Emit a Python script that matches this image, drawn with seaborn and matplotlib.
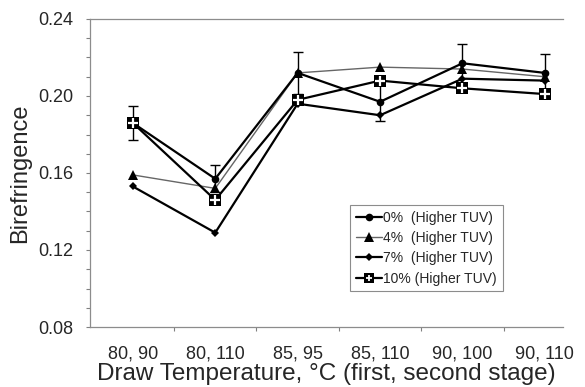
import numpy as np
import pandas as pd
import matplotlib
matplotlib.use("Agg")
import matplotlib.pyplot as plt
import seaborn as sns
from matplotlib.ticker import MultipleLocator, FixedLocator
from matplotlib.legend_handler import HandlerTuple
from matplotlib.lines import Line2D

# datos
stages = ["80, 90", "80, 110", "85, 95", "85, 110", "90, 100", "90, 110"]
pct0 = [0.186, 0.157, 0.212, 0.197, 0.217, 0.212]
pct0_err = [0.009, 0.007, 0.011, 0.010, 0.010, 0.010]
pct4 = [0.159, 0.152, 0.212, 0.215, 0.214, 0.210]
pct7 = [0.153, 0.129, 0.196, 0.190, 0.209, 0.208]
pct10 = [0.186, 0.146, 0.198, 0.208, 0.204, 0.201]
labels = ["0%  (Higher TUV)", "4%  (Higher TUV)", "7%  (Higher TUV)", "10% (Higher TUV)"]

sns.set_style("ticks")
plt.rcParams['font.family'] = ['Liberation Sans', 'DejaVu Sans']

pos = np.arange(len(stages))
df = pd.DataFrame({'pos': pos, 'p0': pct0, 'p4': pct4, 'p7': pct7, 'p10': pct10})

fig = plt.figure(figsize=(5.85, 3.87), dpi=100)
ax = fig.add_axes([90/585, 1 - 327/387, (563 - 90)/585, (327 - 19)/387])

# barras de error (serie 0%)
ax.errorbar(pos, pct0, yerr=pct0_err, fmt='none', ecolor='black',
            elinewidth=1, capsize=3.5, capthick=1, zorder=1)

sns.lineplot(data=df, x='pos', y='p0', ax=ax, color='black', lw=1.6,
             marker='o', markersize=5.5, markeredgewidth=0, zorder=3)
sns.lineplot(data=df, x='pos', y='p4', ax=ax, color='0.4', lw=1.0,
             marker='^', markersize=7, markerfacecolor='black',
             markeredgewidth=0, zorder=2)
sns.lineplot(data=df, x='pos', y='p7', ax=ax, color='black', lw=1.6,
             marker='D', markersize=4.5, markeredgewidth=0, zorder=3)
sns.lineplot(data=df, x='pos', y='p10', ax=ax, color='black', lw=1.6,
             marker='s', markersize=8.5, markeredgewidth=0, zorder=4)
ax.plot(pos, pct10, ls='none', marker='+', color='white', markersize=6.5,
        markeredgewidth=1.6, zorder=5)

lines = ax.get_lines()
h0, h4, h7 = lines[-5:-2]
# marcador del 10% mas chico en la leyenda
h10 = Line2D([], [], color='black', lw=1.6, marker='s', markersize=7, markeredgewidth=0)
h10p = Line2D([], [], ls='none', marker='+', color='white', markersize=5, markeredgewidth=1.3)

ax.set_xlim(-0.52, 5.22)
ax.set_ylim(0.08, 0.24)
ax.set_xticks(pos)
ax.set_xticklabels(stages)
ax.xaxis.set_minor_locator(FixedLocator(pos[:-1] + 0.5))
ax.set_yticks([0.08, 0.12, 0.16, 0.20, 0.24])
ax.yaxis.set_minor_locator(MultipleLocator(0.01))
ax.tick_params(axis='x', which='major', length=0, pad=13, labelsize=13)
ax.tick_params(axis='x', which='minor', length=3, color='0.5', width=0.8)
ax.tick_params(axis='y', which='both', length=3, color='0.5', width=0.8,
               pad=9, labelsize=13)

for side in ['top', 'left', 'bottom']:
    ax.spines[side].set_color('0.55')
    ax.spines[side].set_linewidth(0.9)
ax.spines['right'].set_visible(False)

ax.set_xlabel('Draw Temperature, °C (first, second stage)', fontsize=17.5, labelpad=1)
ax.set_ylabel('Birefringence', fontsize=17, labelpad=5)

leg = ax.legend([h0, h4, h7, (h10, h10p)], labels,
                handler_map={tuple: HandlerTuple(ndivide=1)},
                loc='lower left', bbox_to_anchor=(0.535, 0.094),
                fontsize=10, handlelength=1.9, handletextpad=0.1,
                labelspacing=0.45, borderpad=0.4, frameon=True,
                fancybox=False, edgecolor='0.55', framealpha=1)
leg.get_frame().set_linewidth(0.8)

fig.savefig('out.png', dpi=100)
